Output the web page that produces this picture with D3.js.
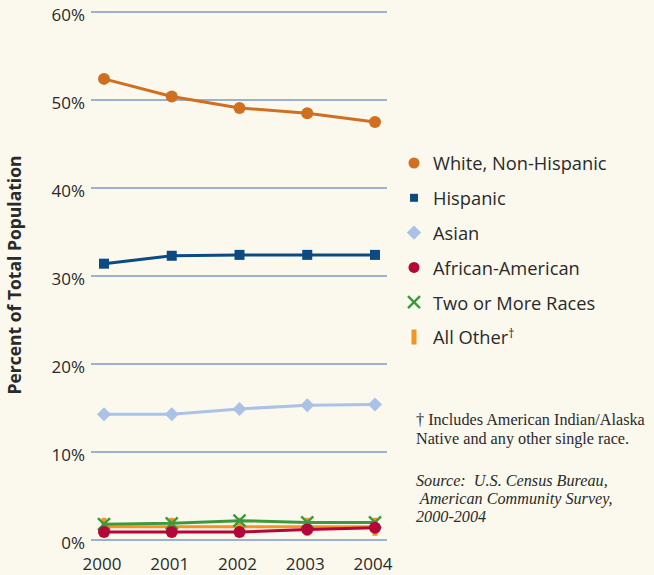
<!DOCTYPE html>
<html>
<head>
<meta charset="utf-8">
<script src="https://cdn.jsdelivr.net/npm/d3@7"></script>
<style>
  body { margin: 0; background: #fbf9ee; }
  svg { display: block; }
</style>
</head>
<body>
<div id="chart"></div>
<script>
// data
const years = [2000, 2001, 2002, 2003, 2004];
const white = [52.4, 50.4, 49.1, 48.5, 47.5];
const hispanic = [31.4, 32.3, 32.4, 32.4, 32.4];
const asian = [14.3, 14.3, 14.9, 15.3, 15.4];
const african = [0.9, 0.9, 0.9, 1.2, 1.4];
const twoOrMore = [1.8, 1.9, 2.2, 2.0, 2.0];
const allOther = [1.5, 1.5, 1.5, 1.5, 1.5];
const yTicks = [0, 10, 20, 30, 40, 50, 60];

const seriesNames = ["White, Non-Hispanic", "Hispanic", "Asian", "African-American", "Two or More Races", "All Other"];
const seriesValues = [white, hispanic, asian, african, twoOrMore, allOther];
const seriesColors = ["#cf6f1f", "#0c4a84", "#a9c2e6", "#b5063a", "#3c9a3a", "#f39424"];
const seriesShapes = ["circle", "square", "diamond", "circle", "cross", "bar"];

const W = 654, H = 575;
const svg = d3.select("#chart").append("svg")
  .attr("width", W).attr("height", H);

svg.append("rect").attr("width", W).attr("height", H).attr("fill", "#fbf9ee");

const x = d3.scalePoint().domain(years).range([104, 375]);
const y = d3.scaleLinear().domain([0, 60]).range([540, 12]);

const sans = "Open Sans, sans-serif";

// gridlines
svg.append("g")
  .selectAll("line")
  .data(yTicks)
  .join("line")
  .attr("x1", 91).attr("x2", 387)
  .attr("y1", d => y(d)).attr("y2", d => y(d))
  .attr("stroke", "#7b98c8")
  .attr("stroke-width", 1.3);

// y tick labels
svg.append("g")
  .selectAll("text")
  .data(yTicks)
  .join("text")
  .attr("x", 85).attr("y", d => y(d) + 3)
  .attr("dy", "0.35em")
  .attr("text-anchor", "end")
  .attr("font-family", sans)
  .attr("font-size", 17)
  .attr("fill", "#2a2a2a")
  .text(d => d + "%");

// x tick labels
svg.append("g")
  .selectAll("text")
  .data(years)
  .join("text")
  .attr("x", d => x(d) - 2).attr("y", 564)
  .attr("dy", "0.35em")
  .attr("text-anchor", "middle")
  .attr("font-family", sans)
  .attr("font-size", 17)
  .attr("fill", "#2a2a2a")
  .text(d => d);

// y axis title
svg.append("text")
  .attr("transform", "translate(15,275) rotate(-90)")
  .attr("dy", "0.35em")
  .attr("text-anchor", "middle")
  .attr("font-family", sans)
  .attr("font-weight", "bold")
  .attr("font-size", 17.5)
  .attr("fill", "#2a2a2a")
  .text("Percent of Total Population");

function drawMarker(g, shape, color, big) {
  const s = big ? 1 : 0.8;
  if (shape === "circle") {
    g.append("circle").attr("r", (big ? 6 : 5.5)).attr("fill", color);
  } else if (shape === "square") {
    g.append("rect").attr("x", -5 * s).attr("y", -5 * s)
      .attr("width", 10 * s).attr("height", 10 * s).attr("fill", color);
  } else if (shape === "diamond") {
    const r = big ? 7 : 7.2;
    g.append("path").attr("d", `M0,${-r}L${r},0L0,${r}L${-r},0Z`)
      .attr("fill", color);
  } else if (shape === "cross") {
    const r = 6;
    g.append("path").attr("d", `M${-r},${-r}L${r},${r}M${-r},${r}L${r},${-r}`)
      .attr("stroke", color).attr("stroke-width", 2.4).attr("fill", "none");
  } else if (shape === "bar") {
    const h = big ? 18 : 15;
    g.append("rect").attr("x", -2.5).attr("y", -h / 2)
      .attr("width", 5).attr("height", h).attr("fill", color);
  }
}

const line = d3.line()
  .x((d, i) => x(years[i]))
  .y(d => y(d));

// draw from back to front so the small series stack like the reference
const drawOrder = [5, 4, 3, 2, 1, 0];
drawOrder.forEach(k => {
  const g = svg.append("g");
  g.append("path")
    .datum(seriesValues[k])
    .attr("d", line)
    .attr("fill", "none")
    .attr("stroke", seriesColors[k])
    .attr("stroke-width", 3);
  seriesValues[k].forEach((v, i) => {
    const m = g.append("g").attr("transform", `translate(${x(years[i])},${y(v)})`);
    drawMarker(m, seriesShapes[k], seriesColors[k], true);
  });
});

// legend
const legend = svg.append("g");
seriesNames.forEach((name, i) => {
  const ly = 163 + i * 34.8;
  const m = legend.append("g").attr("transform", `translate(414,${ly})`);
  drawMarker(m, seriesShapes[i], seriesColors[i], false);
  const t = legend.append("text")
    .attr("x", 433).attr("y", ly + 1)
    .attr("dy", "0.35em")
    .attr("font-family", sans)
    .attr("font-size", 18.3)
    .attr("fill", "#2a2a2a")
    .text(name);
  if (name === "All Other") {
    t.append("tspan").attr("dy", "-0.5em").attr("font-size", 12).text("†");
  }
});

// footnote and source
const notes = [
  { t: "† Includes American Indian/Alaska", y: 425, it: false },
  { t: "Native and any other single race.", y: 444, it: false },
  { t: "Source:  U.S. Census Bureau,", y: 486, it: true },
  { t: " American Community Survey,", y: 504, it: true },
  { t: "2000-2004", y: 522, it: true }
];
svg.append("g")
  .selectAll("text")
  .data(notes)
  .join("text")
  .attr("x", 416).attr("y", d => d.y)
  .attr("font-family", "Liberation Serif, serif")
  .attr("font-size", 16.2)
  .attr("font-style", d => d.it ? "italic" : "normal")
  .attr("fill", "#2a2a2a")
  .attr("xml:space", "preserve")
  .style("white-space", "pre")
  .text(d => d.t);
</script>
</body>
</html>
